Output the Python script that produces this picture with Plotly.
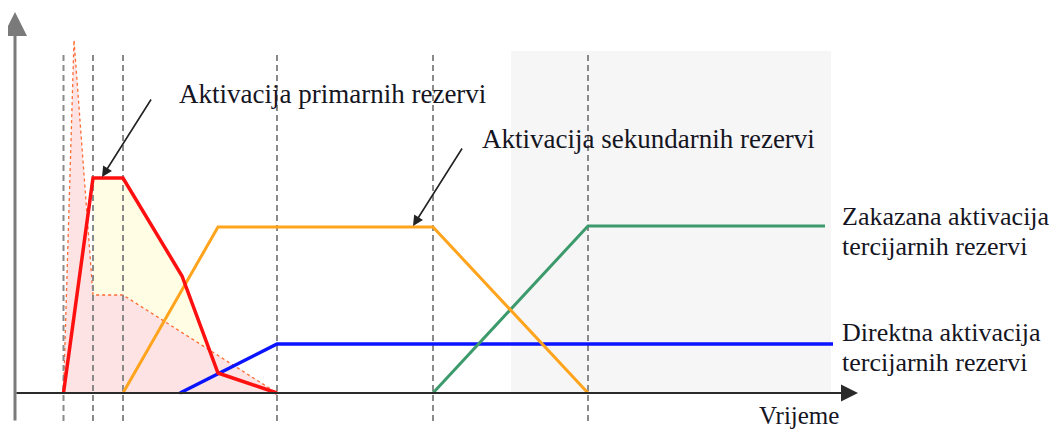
import plotly.graph_objects as go

# time axis (arbitrary units) and activated power
markers_t = [48.5, 78, 108, 262, 418, 573]

primary_t = [48.5, 78, 108, 167, 203, 262]
primary_p = [0, 215, 215, 117, 20, 0]

inertia_t = [48.5, 59, 78, 108, 262]
inertia_p = [0, 353, 98, 98, 0]

secondary_t = [108, 203, 418, 573]
secondary_p = [0, 166, 166, 0]

direct_t = [165, 262, 818]
direct_p = [0, 49, 49]

scheduled_t = [418, 573, 810]
scheduled_p = [0, 167, 167]

FONT = "'Liberation Serif', 'Times New Roman', 'DejaVu Serif', serif"
TXT = "#15151f"

fig = go.Figure()

# yellow area under the primary curve (from the plateau onwards)
fig.add_trace(go.Scatter(
    x=primary_t[1:] + [primary_t[1]], y=primary_p[1:] + [0],
    fill="toself", fillcolor="#fffde4", line=dict(width=0), mode="lines"))

# pink area + dotted outline
fig.add_trace(go.Scatter(
    x=inertia_t + [inertia_t[0]], y=inertia_p + [inertia_p[0]],
    fill="toself", fillcolor="#fde3e3",
    line=dict(color="#ff6a33", width=1.3, dash="dot"), mode="lines"))

# dashed time markers
for t in markers_t:
    fig.add_trace(go.Scatter(
        x=[t, t], y=[-28, 341], mode="lines",
        line=dict(color="#8a8a8a", width=2, dash="6px,4px")))

fig.add_trace(go.Scatter(x=direct_t, y=direct_p, mode="lines",
                         line=dict(color="#0a14ff", width=3.5)))
fig.add_trace(go.Scatter(x=scheduled_t, y=scheduled_p, mode="lines",
                         line=dict(color="#3d9a6c", width=3)))
fig.add_trace(go.Scatter(x=secondary_t, y=secondary_p, mode="lines",
                         line=dict(color="#ffa41c", width=3)))
fig.add_trace(go.Scatter(x=primary_t, y=primary_p, mode="lines",
                         line=dict(color="#ff1010", width=3.5)))

# light grey panel behind the right part
fig.add_shape(type="rect", x0=496, x1=816, y0=0, y1=342,
              fillcolor="#f6f6f6", line=dict(width=0), layer="below")

ann = []
# axes with arrows
ann.append(dict(x=0, y=381, ax=0, ay=-29, xref="x", yref="y", axref="x", ayref="y",
                showarrow=True, arrowhead=2, arrowsize=1.6, arrowwidth=3,
                arrowcolor="#7a7a7a", text=""))
ann.append(dict(x=843, y=0, ax=0, ay=0, xref="x", yref="y", axref="x", ayref="y",
                showarrow=True, arrowhead=2, arrowsize=1.7, arrowwidth=2,
                arrowcolor="#2a2a2a", text=""))
# pointer arrows
ann.append(dict(x=87, y=216, ax=137, ay=295, xref="x", yref="y", axref="x", ayref="y",
                showarrow=True, arrowhead=2, arrowsize=1.3, arrowwidth=1.6,
                arrowcolor="#222222", text=""))
ann.append(dict(x=398, y=167, ax=448, ay=246, xref="x", yref="y", axref="x", ayref="y",
                showarrow=True, arrowhead=2, arrowsize=1.3, arrowwidth=1.6,
                arrowcolor="#222222", text=""))

labels = [
    ("Aktivacija primarnih rezervi", 162, 299, 27),
    ("Aktivacija sekundarnih rezervi", 465, 254, 27),
    ("Zakazana aktivacija", 825, 177, 26),
    ("tercijarnih rezervi", 825, 147, 26),
    ("Direktna aktivacija", 825, 61, 26),
    ("tercijarnih rezervi", 825, 31, 26),
    ("Vrijeme", 742, -22, 25),
]
for txt, t, p, s in labels:
    ann.append(dict(x=t, y=p, xref="x", yref="y", text=txt, showarrow=False,
                    xanchor="left", yanchor="middle",
                    font=dict(family=FONT, size=s, color=TXT)))

# ranges offset by the page's 8px body margin so marks land where the reference has them
fig.update_layout(
    width=1061, height=430,
    margin=dict(l=0, r=0, t=0, b=0),
    paper_bgcolor="white", plot_bgcolor="white",
    showlegend=False,
    annotations=ann,
    xaxis=dict(range=[-7, 1054], visible=False, fixedrange=True),
    yaxis=dict(range=[-45, 385], visible=False, fixedrange=True),
)

fig.write_html("out.html")
